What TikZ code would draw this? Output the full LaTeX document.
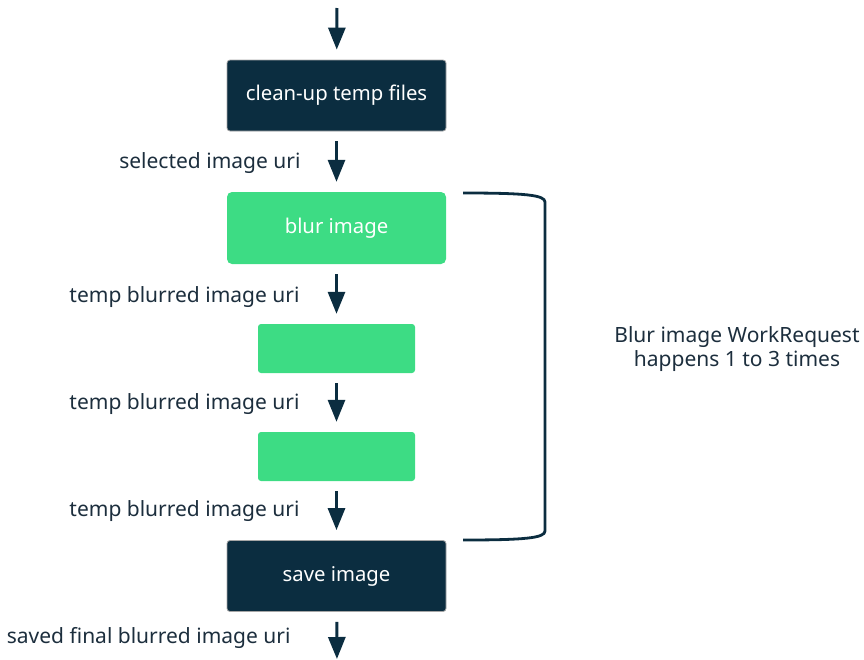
\documentclass[tikz,border=0pt]{standalone}
\usepackage{fontspec}
\setmainfont{Noto Sans}
\usetikzlibrary{arrows.meta}
\definecolor{navy}{HTML}{0B2D40}
\definecolor{droid}{HTML}{3DDC84}
\definecolor{ink}{HTML}{1C2E3D}

\begin{document}
\begin{tikzpicture}[x=1pt, y=-1pt,
    darkbox/.style={rectangle, rounded corners=3pt, fill=navy, draw=gray!70, line width=0.8pt, text=white, minimum width=219pt, minimum height=71pt, font=\fontsize{20.3}{24}\selectfont},
    greenbox/.style={rectangle, rounded corners=5pt, fill=droid, text=white, minimum width=219pt, minimum height=72pt, font=\fontsize{20.3}{24}\selectfont},
    smallbox/.style={rectangle, rounded corners=3pt, fill=droid, minimum width=157pt, minimum height=49pt},
    uri/.style={anchor=east, text=ink, font=\fontsize{21}{24}\selectfont},
    arr/.style={-{Triangle[width=17pt, length=22pt]}, line width=3pt, draw=navy, shorten <=10pt, shorten >=10pt}]
    \useasboundingbox (0,0) rectangle (864,659);
    \coordinate (in) at (337,-2);
    \node[darkbox] (clean) at (336.5,95.5) {clean-up temp files};
    \node[greenbox] (blur) at (336.5,228) {blur image};
    \node[smallbox] (blur2) at (336.5,348.5) {};
    \node[smallbox] (blur3) at (336.5,456.5) {};
    \node[darkbox] (save) at (336.5,576) {save image};
    \coordinate (out) at (337,669);
    \node[uri] (l1) at (304,163) {selected image uri};
    \node[uri] (l2) at (303,297) {temp blurred image uri};
    \node[uri] (l3) at (303,404) {temp blurred image uri};
    \node[uri] (l4) at (303,511) {temp blurred image uri};
    \node[uri] (l5) at (294,638) {saved final blurred image uri};
    \draw[arr] (in) -- (clean);
    \draw[arr] (clean) -- (blur);
    \draw[arr] (blur) -- (blur2);
    \draw[arr] (blur2) -- (blur3);
    \draw[arr] (blur3) -- (save);
    \draw[arr] (save) -- (out);
    % bracket round the repeated blur steps
    \coordinate (btop) at (463,193);
    \coordinate (bbot) at (463,540);
    \draw[navy, line width=2.8pt] (btop) .. controls (525,193) and (545,195) .. (545,202) -- (545,531) .. controls (545,538) and (525,540) .. (bbot);
    \node[text=ink, align=center, font=\fontsize{21}{24}\selectfont] (note) at (737,349) {Blur image WorkRequest\\happens 1 to 3 times};
\end{tikzpicture}
\end{document}
